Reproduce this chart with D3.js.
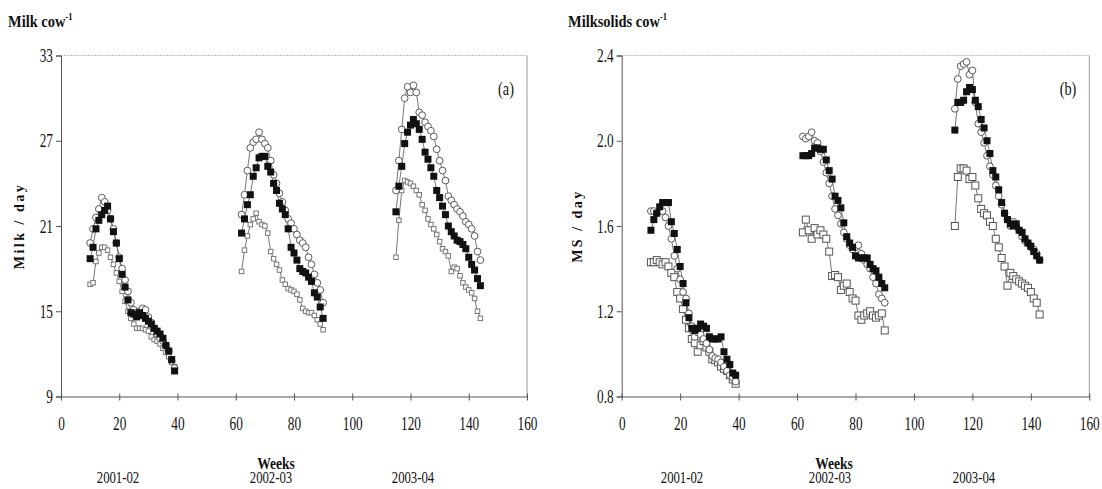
<!DOCTYPE html>
<html><head><meta charset="utf-8">
<script src="https://cdn.jsdelivr.net/npm/d3@7/dist/d3.min.js"></script>
<style>body{margin:0;background:#fff}svg{display:block}</style>
</head><body><svg id="c" width="1102" height="489"></svg>
<script>
// ---- weeks (x categories) ----
const weeks1  = [10,11,12,13,14,15,16,17,18,19,20,21,22,23,24,25,26,27,28,29,30,31,32,33,34,35,36,37,38,39];
const weeks2  = [62,63,64,65,66,67,68,69,70,71,72,73,74,75,76,77,78,79,80,81,82,83,84,85,86,87,88,89,90];
const weeks3A = [115,116,117,118,119,120,121,122,123,124,125,126,127,128,129,130,131,132,133,134,135,136,137,138,139,140,141,142,143,144];
const weeks3B = [114,115,116,117,118,119,120,121,122,123,124,125,126,127,128,129,130,131,132,133,134,135,136,137,138,139,140,141,142,143];

// ---- panel (a): milk / day ----
const milkCirc1 = [19.8,20.8,21.6,22.2,23.0,22.7,22.1,21.5,20.8,19.8,18.8,18.0,17.2,16.4,15.6,15.1,14.9,15.0,15.2,15.1,14.6,14.2,13.8,13.4,13.1,12.9,12.6,12.2,11.5,11.0];
const milkFill1 = [18.7,19.5,20.8,21.4,21.8,22.1,22.4,21.5,20.6,19.8,18.7,17.6,16.7,15.8,14.9,14.8,14.6,14.9,14.7,14.5,14.3,14.1,13.8,13.6,13.4,13.1,12.6,12.2,11.6,10.8];
const milkOpen1 = [16.9,17.0,18.5,19.1,19.5,19.5,19.3,18.8,18.3,17.7,17.1,16.4,15.7,15.0,14.5,14.1,13.8,13.8,13.8,13.7,13.6,13.2,13.0,12.9,12.7,12.4,12.1,11.8,11.4,11.1];
const milkCirc2 = [21.8,23.2,24.9,26.5,26.9,27.1,27.6,27.1,26.8,26.5,25.6,24.6,24.0,23.3,22.7,22.1,21.5,21.2,20.8,20.4,20.0,19.8,19.5,18.8,18.3,17.6,17.0,16.5,15.6];
const milkFill2 = [20.5,21.5,22.5,23.2,24.5,25.1,25.8,25.9,25.9,25.2,24.8,24.0,23.5,22.6,22.2,21.8,20.8,19.5,19.1,18.6,18.0,17.8,17.7,17.4,17.1,16.3,16.0,15.3,14.5];
const milkOpen2 = [17.8,19.3,20.3,21.1,21.5,21.9,21.3,21.1,21.0,20.5,19.2,18.7,18.3,17.9,17.2,16.9,16.6,16.5,16.4,16.2,15.8,15.2,15.0,14.9,14.9,14.7,14.4,14.1,13.7];
const milkCirc3 = [23.5,25.6,27.8,30.0,30.8,30.4,30.9,30.4,29.0,28.8,28.3,28.0,27.7,27.3,26.4,25.6,24.9,24.2,23.1,22.8,22.5,22.2,22.0,21.7,21.3,21.1,20.8,20.3,19.2,18.6];
const milkFill3 = [22.0,23.8,25.2,26.8,27.6,28.1,28.5,28.2,27.8,27.1,26.2,25.7,25.1,24.5,23.5,23.0,22.4,21.8,21.0,20.6,20.3,20.0,19.9,19.7,19.4,18.8,18.3,17.9,17.3,16.8];
const milkOpen3 = [18.8,21.4,23.5,24.2,24.1,24.0,23.8,23.5,23.2,22.5,22.1,21.5,21.1,20.8,20.4,19.9,19.4,19.2,18.9,17.8,18.1,18.0,17.5,17.0,16.7,16.5,16.3,15.9,15.0,14.5];

// ---- panel (b): milksolids / day ----
const msCirc1 = [1.67,1.67,1.66,1.67,1.67,1.64,1.60,1.54,1.46,1.40,1.35,1.29,1.26,1.19,1.13,1.08,1.10,1.09,1.07,1.05,1.02,0.99,0.98,0.975,0.96,0.94,0.92,0.90,0.89,0.87];
const msFill1 = [1.58,1.63,1.66,1.69,1.71,1.71,1.71,1.62,1.565,1.49,1.41,1.33,1.24,1.17,1.12,1.11,1.12,1.14,1.13,1.12,1.08,1.07,1.07,1.07,1.08,1.01,0.975,0.95,0.91,0.90];
const msOpen1 = [1.43,1.43,1.44,1.43,1.42,1.43,1.41,1.38,1.36,1.29,1.26,1.21,1.16,1.12,1.07,1.05,1.01,1.04,1.06,1.03,1.01,0.975,0.97,0.96,0.94,0.93,0.92,0.90,0.88,0.86];
const msCirc2 = [2.02,2.01,2.02,2.04,2.00,1.99,1.95,1.90,1.85,1.80,1.74,1.68,1.65,1.61,1.57,1.54,1.51,1.49,1.50,1.51,1.47,1.44,1.42,1.40,1.36,1.33,1.28,1.26,1.24];
const msFill2 = [1.93,1.93,1.93,1.94,1.966,1.966,1.96,1.96,1.91,1.86,1.82,1.74,1.72,1.685,1.615,1.55,1.52,1.50,1.46,1.45,1.45,1.45,1.45,1.42,1.40,1.39,1.36,1.33,1.31];
const msOpen2 = [1.57,1.63,1.58,1.54,1.59,1.56,1.58,1.56,1.54,1.48,1.365,1.37,1.36,1.30,1.32,1.33,1.29,1.26,1.25,1.18,1.16,1.18,1.19,1.20,1.18,1.17,1.18,1.19,1.11];
const msCirc3 = [2.15,2.29,2.35,2.36,2.37,2.31,2.33,2.18,2.08,2.04,1.99,1.93,1.88,1.84,1.79,1.74,1.70,1.66,1.63,1.60,1.62,1.60,1.58,1.55,1.53,1.52,1.50,1.49,1.47,1.44];
const msFill3 = [2.05,2.18,2.18,2.19,2.23,2.25,2.24,2.19,2.16,2.10,2.06,2.00,1.94,1.86,1.83,1.77,1.71,1.66,1.63,1.61,1.60,1.61,1.58,1.57,1.54,1.52,1.505,1.48,1.46,1.44];
const msOpen3 = [1.60,1.83,1.87,1.87,1.86,1.82,1.83,1.79,1.73,1.68,1.66,1.65,1.62,1.60,1.54,1.50,1.45,1.41,1.32,1.38,1.365,1.35,1.34,1.33,1.32,1.31,1.29,1.26,1.24,1.185];

// ---- ticks / labels ----
const xTicks = [0,20,40,60,80,100,120,140,160];
const yTicksA = [9,15,21,27,33];
const yTicksB = [0.8,1.2,1.6,2.0,2.4];
const seasons = ["2001-02","2002-03","2003-04"];

const svg = d3.select("#c");
const SERIF = "'Liberation Serif','Times New Roman',serif";

function txt(g, x, y, s, o) {
  o = o || {};
  const sx = o.sx || 0.7;
  const t = g.append("text")
    .attr("transform", `translate(${x},${y}) rotate(${o.rot||0}) scale(${sx},1)`)
    .attr("text-anchor", o.anchor || "middle")
    .attr("font-family", SERIF)
    .attr("font-size", o.size || 19)
    .attr("font-weight", o.bold ? "bold" : "normal")
    .attr("fill", "#111");
  if (o.ls) t.attr("letter-spacing", o.ls);
  t.text(s);
  return t;
}

function panel(cfg) {
  const x = d3.scaleLinear().domain([0,160]).range([cfg.x0, cfg.x1]);
  const y = d3.scaleLinear().domain(cfg.yDom).range([396.5, 55.5]);
  const g = svg.append("g");

  g.append("line").attr("x1", x(0)).attr("x2", x(160)).attr("y1", y.range()[1]).attr("y2", y.range()[1])
    .attr("stroke", "#bdbdbd").attr("stroke-dasharray", "2,1");
  g.append("line").attr("x1", x(160)).attr("x2", x(160)).attr("y1", y.range()[1]).attr("y2", y.range()[0])
    .attr("stroke", "#9a9a9a");

  const sxTick = 0.7;
  const ya = g.append("g").attr("transform", `translate(${x(0)},0)`)
    .call(d3.axisLeft(y).tickValues(cfg.yTicks).tickSize(5).tickFormat(cfg.yFmt));
  ya.select(".domain").attr("stroke", "#555");
  ya.selectAll(".tick line").attr("stroke", "#555");
  ya.selectAll(".tick text").attr("font-family", SERIF).attr("font-size", 19).attr("fill", "#111")
    .attr("x", -8 / sxTick).attr("transform", `scale(${sxTick},1)`);

  const xa = g.append("g").attr("transform", `translate(0,${y.range()[0]})`)
    .call(d3.axisBottom(x).tickValues(xTicks).tickSize(4).tickSizeOuter(0));
  xa.select(".domain").attr("stroke", "#555");
  xa.selectAll(".tick line").attr("stroke", "#555").attr("y1", -3).attr("y2", 4);
  xa.selectAll(".tick text").attr("font-family", SERIF).attr("font-size", 19).attr("fill", "#111")
    .attr("y", 20).attr("transform", `scale(${sxTick},1)`);

  const line = d3.line().x(d => x(d[0])).y(d => y(d[1]));
  cfg.seasons.forEach(s => {
    [s.open, s.circ, s.fill].forEach(vals => {
      g.append("path").datum(d3.zip(s.weeks, vals)).attr("d", line)
        .attr("fill", "none").attr("stroke", "#555").attr("stroke-width", 0.8);
    });
  });
  cfg.seasons.forEach(s => {
    const os = cfg.openSize;
    g.append("g").selectAll("rect").data(d3.zip(s.weeks, s.open)).join("rect")
      .attr("x", d => x(d[0]) - os/2).attr("y", d => y(d[1]) - os/2)
      .attr("width", os).attr("height", os)
      .attr("fill", "#fff").attr("stroke", cfg.openStroke).attr("stroke-width", 1);
    g.append("g").selectAll("circle").data(d3.zip(s.weeks, s.circ)).join("circle")
      .attr("cx", d => x(d[0])).attr("cy", d => y(d[1])).attr("r", 3.4)
      .attr("fill", "#fff").attr("stroke", "#5a5a5a").attr("stroke-width", 1);
    g.append("g").selectAll("rect").data(d3.zip(s.weeks, s.fill)).join("rect")
      .attr("x", d => x(d[0]) - 3.5).attr("y", d => y(d[1]) - 3.5)
      .attr("width", 7).attr("height", 7).attr("fill", "#111");
  });

  const tt = txt(g, cfg.titleX, 27, cfg.title, {anchor: "start", bold: true, size: 17, sx: 0.85});
  tt.append("tspan").attr("font-size", 10).attr("dy", -7).text(cfg.sup);
  txt(g, cfg.yLabX, 226, cfg.yLab, {rot: -90, bold: true, size: 14, sx: 1, ls: 2.5});
  txt(g, cfg.panelX, 95, cfg.panel, {size: 19, sx: 0.75});
  txt(g, cfg.weeksX, 469, "Weeks", {bold: true, size: 17, sx: 0.8});
  cfg.seasonX.forEach((sx, i) => txt(g, sx, 483, seasons[i], {size: 17, sx: 0.75}));
}

panel({
  x0: 61, x1: 527, yDom: [9,33], yTicks: yTicksA, yFmt: d3.format("d"),
  seasons: [
    {weeks: weeks1, circ: milkCirc1, fill: milkFill1, open: milkOpen1},
    {weeks: weeks2, circ: milkCirc2, fill: milkFill2, open: milkOpen2},
    {weeks: weeks3A, circ: milkCirc3, fill: milkFill3, open: milkOpen3}],
  openSize: 4.5, openStroke: "#777",
  title: "Milk cow", sup: "-1", titleX: 8, yLab: "Milk / day", yLabX: 24,
  panel: "(a)", panelX: 506, weeksX: 276, seasonX: [118, 271, 413]
});
panel({
  x0: 621.7, x1: 1089.3, yDom: [0.8,2.4], yTicks: yTicksB, yFmt: d3.format(".1f"),
  seasons: [
    {weeks: weeks1, circ: msCirc1, fill: msFill1, open: msOpen1},
    {weeks: weeks2, circ: msCirc2, fill: msFill2, open: msOpen2},
    {weeks: weeks3B, circ: msCirc3, fill: msFill3, open: msOpen3}],
  openSize: 7, openStroke: "#555",
  title: "Milksolids cow", sup: "-1", titleX: 568, yLab: "MS / day", yLabX: 582,
  panel: "(b)", panelX: 1068, weeksX: 834, seasonX: [682, 830, 974]
});
</script></body></html>
